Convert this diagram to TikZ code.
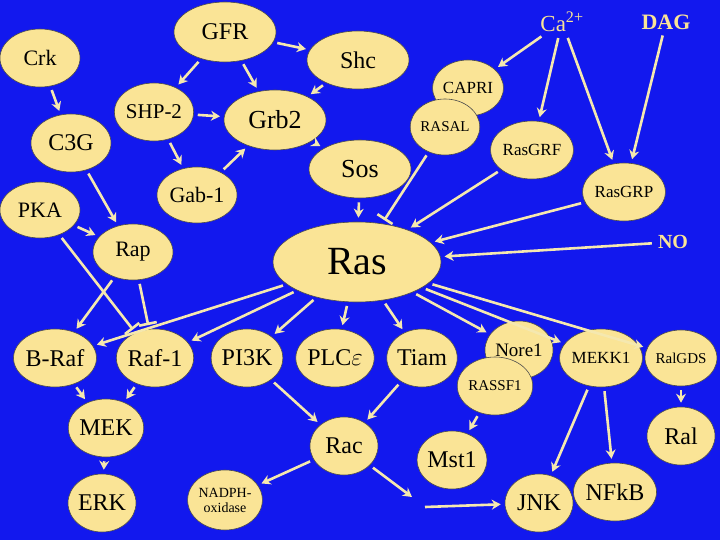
\documentclass[tikz,border=0pt]{standalone}
\usepackage{fontspec}
\setmainfont{Liberation Serif}
\usetikzlibrary{shapes.geometric,arrows.meta}
\definecolor{bg}{RGB}{18,24,238}
\definecolor{nf}{RGB}{250,228,150}
\definecolor{ar}{RGB}{245,232,175}
\tikzset{
 nd/.style args={#1/#2}{ellipse,draw=black!70,line width=0.6pt,fill=nf,inner sep=0pt,minimum width=2*#1pt,minimum height=2*#2pt,font=\fontsize{24}{24}\selectfont},
 tx/.style={text=nf,font=\fontsize{23}{23}\selectfont,inner sep=2pt},
 ed/.style={draw=ar,line width=2.6pt,-{Stealth[length=9pt,width=10pt]},shorten >=4pt,shorten <=4pt},
 inh/.style={draw=ar,line width=2.6pt,-{Bar[width=18pt]},shorten >=4pt,shorten <=4pt},
 sm/.style={font=\fontsize{17}{17}\selectfont},
}
\begin{document}
\begin{tikzpicture}[x=1pt,y=-1pt]
\fill[bg] (0,0) rectangle (720,540);
\useasboundingbox (0,0) rectangle (720,540);
% top nodes
\node[nd=51/30] (gfr) at (225,32) {GFR};
\node[nd=51/29] (shc) at (358,60) {Shc};
\node[nd=40/29,font=\fontsize{22}{22}\selectfont] (crk) at (40,58) {Crk};
\node[nd=38/29,font=\fontsize{21}{21}\selectfont] (shp) at (154,112) {SHP-2};
\node[nd=51/30,font=\fontsize{26}{26}\selectfont] (grb) at (275,120) {Grb2};
\node[nd=40/29] (c3g) at (71,143) {C3G};
\node[nd=34/28,sm] (capri) at (468,88) {CAPRI};
\node[nd=34/28,font=\fontsize{15}{15}\selectfont] (rasal) at (445,127) {RASAL};
\node[nd=37/29,sm] (rasgrf) at (532,150) {RasGRF};
\node[nd=51/29,font=\fontsize{26}{26}\selectfont] (sos) at (360,169) {Sos};
\node[nd=40/28,font=\fontsize{22}{22}\selectfont] (gab) at (197,195) {Gab-1};
\node[nd=40/28,font=\fontsize{22}{22}\selectfont] (pka) at (40,210) {PKA};
\node[nd=37/29,sm] (rasgrp) at (624,192) {RasGRP};
\node[nd=40/28,font=\fontsize{22}{22}\selectfont] (rap) at (133,252) {Rap};
\node[nd=84/40,font=\fontsize{40}{40}\selectfont] (ras) at (357,262) {Ras};
\node[tx] (ca) at (562,22) {Ca\textsuperscript{2+}};
\node[tx,font=\fontsize{22}{22}\bfseries\selectfont] (dag) at (666,22) {DAG};
\node[tx,font=\fontsize{20}{20}\bfseries\selectfont] (no) at (673,242) {NO};
% bottom nodes
\node[nd=34/29] (braf) at (55,358) {B-Raf};
\node[nd=34/29] (raf) at (155,358) {Raf-1};
\node[nd=34/29] (pi3k) at (247,358) {PI3K};
\node[nd=34/29] (plc) at (335,358) {PLC$\varepsilon$};
\node[nd=34/29] (tiam) at (422,358) {Tiam};
\node[nd=34/29,font=\fontsize{19}{19}\selectfont] (nore) at (519,350) {Nore1};
\node[nd=34/29,font=\fontsize{15}{15}\selectfont] (rassf) at (495,386) {RASSF1};
\node[nd=34/29,sm] (mekk) at (601,358) {MEKK1};
\node[nd=32/28,font=\fontsize{15}{15}\selectfont] (ralgds) at (681,358) {RalGDS};
\node[nd=34/29] (mek) at (106,428) {MEK};
\node[nd=34/29] (rac) at (344,446) {Rac};
\node[nd=34/29] (mst) at (452,460) {Mst1};
\node[nd=34/29] (ral) at (681,436) {Ral};
\node[nd=34/29] (erk) at (102,503) {ERK};
\node[nd=37/30,align=center,font=\fontsize{14}{15}\selectfont] (nadph) at (225,500) {NADPH-\\oxidase};
\node[nd=34/29] (jnk) at (539,503) {JNK};
\node[nd=34/29] (nfkb) at (615,492) {NFkB};
\coordinate (rj1) at (412,497);
\coordinate (rj2) at (425,507);
% edges
\draw[ed] (gfr) -- (shc);
\draw[ed] (gfr) -- (shp);
\draw[ed] (gfr) -- (grb);
\draw[ed] (shc) -- (grb);
\draw[ed] (shp) -- (grb);
\draw[ed] (shp) -- (gab);
\draw[ed] (gab) -- (grb);
\draw[ed] (grb) -- (sos);
\draw[ed] (crk) -- (c3g);
\draw[ed] (c3g) -- (rap);
\draw[ed] (pka) -- (rap);
\draw[inh] (pka) -- (raf);
\draw[ed] (rap) -- (braf);
\draw[inh] (rap) -- (raf);
\draw[ed] (sos) -- (ras);
\draw[inh] (rasal) -- (ras);
\draw[ed] (rasgrf) -- (ras);
\draw[ed] (ca) -- (capri);
\draw[ed] (ca) -- (rasgrf);
\draw[ed] (ca) -- (rasgrp);
\draw[ed] (dag) -- (rasgrp);
\draw[ed] (rasgrp) -- (ras);
\draw[ed] (no) -- (ras);
\draw[ed] (ras) -- (braf);
\draw[ed] (ras) -- (raf);
\draw[ed] (ras) -- (pi3k);
\draw[ed] (ras) -- (plc);
\draw[ed] (ras) -- (tiam);
\draw[ed] (ras) -- (nore);
\draw[ed] (ras) -- (mekk);
\draw[ed] (ras) -- (ralgds);
\draw[ed] (braf) -- (mek);
\draw[ed] (raf) -- (mek);
\draw[ed] (mek) -- (erk);
\draw[ed] (pi3k) -- (rac);
\draw[ed] (tiam) -- (rac);
\draw[ed] (rac) -- (nadph);
\draw[ed,shorten >=0pt] (rac) -- (rj1);
\draw[ed,shorten <=0pt] (rj2) -- (jnk);
\draw[ed] (rassf) -- (mst);
\draw[ed] (mekk) -- (jnk);
\draw[ed] (mekk) -- (nfkb);
\draw[ed] (ralgds) -- (ral);
\end{tikzpicture}
\end{document}
